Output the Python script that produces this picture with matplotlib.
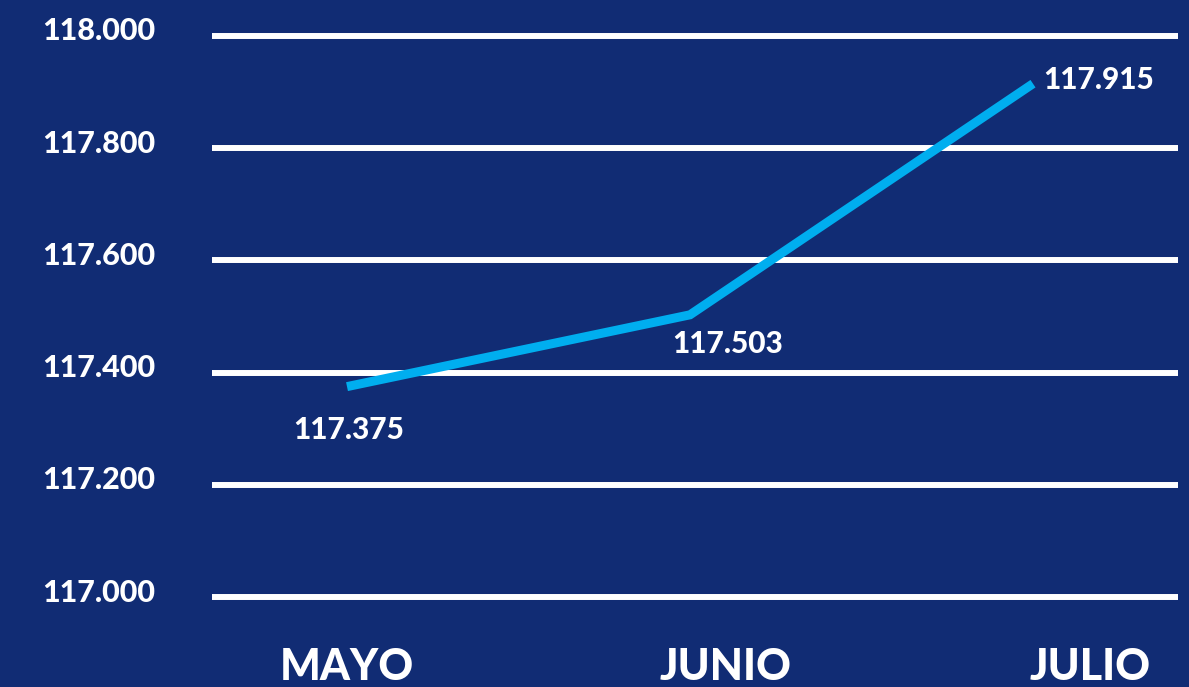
import matplotlib
matplotlib.use("Agg")
import matplotlib.pyplot as plt
from matplotlib.transforms import ScaledTranslation

months = ["MAYO", "JUNIO", "JULIO"]
values = [117375, 117503, 117915]
value_labels = ["117.375", "117.503", "117.915"]
yticks = [117000, 117200, 117400, 117600, 117800, 118000]
ytick_labels = ["117.000", "117.200", "117.400", "117.600", "117.800", "118.000"]

BG = "#112c74"
LINE = "#00aeef"
FONT = "Lato"
WEIGHT = "black"

W, H = 1189, 687
fig = plt.figure(figsize=(W / 100, H / 100), dpi=100)
fig.patch.set_facecolor(BG)

# pixel geometry
px_per_unit = 0.561
y0_px = 597  # 117000
pad_units = 40
bottom_px = y0_px + pad_units * px_per_unit
top_px = y0_px - (1000 + pad_units) * px_per_unit
left_px, right_px = 212, 1178
x0_px, dx_px = 347, 343
xmin = (left_px - x0_px) / dx_px
xmax = (right_px - x0_px) / dx_px

ax = fig.add_axes([left_px / W, 1 - bottom_px / H, (right_px - left_px) / W, (bottom_px - top_px) / H])
ax.set_facecolor(BG)
ax.set_xlim(xmin, xmax)
ax.set_ylim(117000 - pad_units, 118000 + pad_units)

for s in ax.spines.values():
    s.set_visible(False)

for yt in yticks:
    ax.axhline(yt, color="white", lw=4.3, zorder=1, solid_capstyle="butt")

xs = list(range(len(months)))
ax.plot(xs, values, color=LINE, lw=6.5, solid_capstyle="butt", solid_joinstyle="miter", zorder=3)

# data labels
offsets = [(2, -43, "center", "center"), (38, -29, "center", "center"), (10, 4, "left", "center")]
for x, v, lab, (ox, oy, ha, va) in zip(xs, values, value_labels, offsets):
    ax.annotate(lab, (x, v), xytext=(ox * 0.72, oy * 0.72), textcoords="offset points",
                ha=ha, va=va, color="white", fontsize=21.5, fontweight=WEIGHT, family=FONT, zorder=4)

ax.set_yticks(yticks)
ax.set_yticklabels(ytick_labels, fontsize=22, fontweight=WEIGHT, family=FONT, color="white")
ax.tick_params(axis="y", length=0, pad=57 * 0.72)
for lbl in ax.get_yticklabels():
    lbl.set_transform(lbl.get_transform() + ScaledTranslation(0, 7 / 100, fig.dpi_scale_trans))

label_pos = [0, 1.105, 2.166]
ax.set_xticks(label_pos)
ax.set_xticklabels(months, fontsize=31, fontweight=WEIGHT, family=FONT, color="white")
ax.tick_params(axis="x", length=0, pad=28 * 0.72)

fig.savefig("out.png", dpi=100, facecolor=BG)
